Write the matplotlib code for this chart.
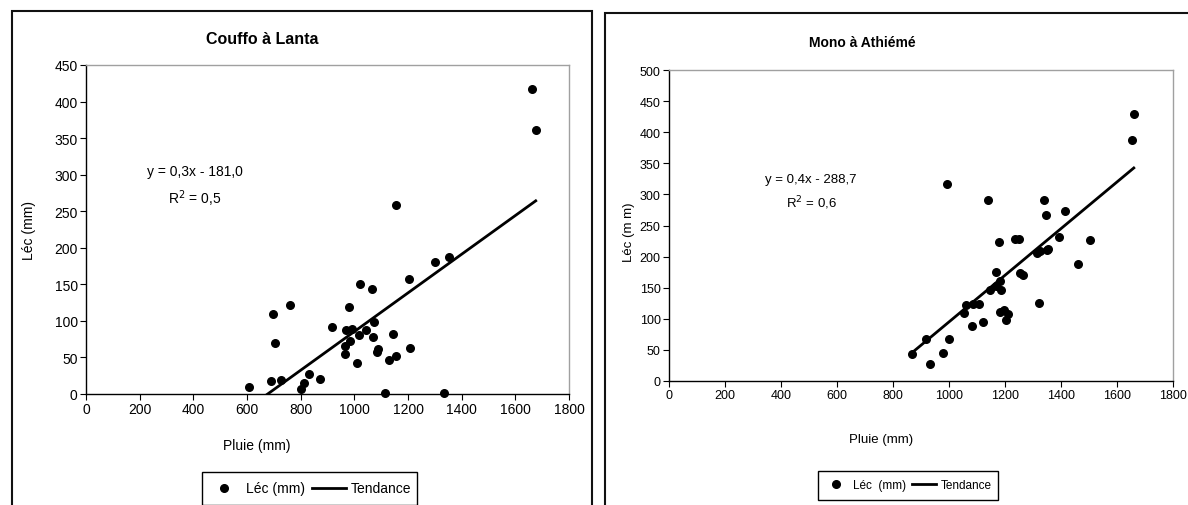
import numpy as np
import matplotlib
matplotlib.use('Agg')
import matplotlib.pyplot as plt
from matplotlib.patches import Rectangle
from matplotlib.lines import Line2D

plt.rcParams['font.family'] = ['Liberation Sans', 'DejaVu Sans']

# Couffo à Lanta : pluie (mm) / lame écoulée (mm)
couffo_pluie = [1661, 1676, 1154, 1299, 1352, 1203, 1021, 1065, 762, 697,
                981, 917, 970, 991, 1042, 1016, 1075, 1070, 982, 1144,
                704, 966, 966, 1090, 1084, 1208, 1154, 1129, 1009, 832,
                871, 689, 727, 608, 813, 802, 1114, 1333]
couffo_lec = [417, 361, 259, 180, 187, 157, 151, 143, 122, 109,
              119, 91, 87, 89, 87, 81, 99, 78, 73, 82,
              70, 65, 55, 62, 57, 63, 52, 47, 43, 28,
              20, 18, 19, 10, 15, 7, 1, 1]
couffo_pente, couffo_ordonnee = 0.2645, -179.1

# Mono à Athiémé
mono_pluie = [1660, 1652, 994, 1138, 1339, 1347, 1414, 1178, 1236, 1250,
              1394, 1503, 1315, 1324, 1351, 1355, 1460, 1167, 1252, 1265,
              1183, 1169, 1147, 1186, 1061, 1085, 1107, 1320, 1055, 1183,
              1198, 1210, 1205, 1123, 1081, 919, 1001, 869, 979, 931]
mono_lec = [430, 388, 316, 291, 291, 267, 273, 223, 228, 228,
            232, 226, 206, 209, 211, 212, 188, 175, 173, 170,
            160, 153, 146, 146, 122, 124, 124, 126, 109, 111,
            114, 107, 98, 95, 89, 68, 67, 43, 45, 27]
mono_pente, mono_ordonnee = 0.375, -280.0

W, H = 1188, 506
fig = plt.figure(figsize=(W / 100, H / 100), dpi=100)


def px_axes(x0, y0, x1, y1):
    return fig.add_axes([x0 / W, (H - y1) / H, (x1 - x0) / W, (y1 - y0) / H])


def fig_text(x, y, s, **kw):
    fig.text(x / W, (H - y) / H, s, **kw)


# cadres des deux graphiques
fig.patches.append(Rectangle((12 / W, -0.05), (592 - 12) / W, (H - 12) / H + 0.05,
                             transform=fig.transFigure, fill=False, lw=1.5, ec='#111111'))
fig.patches.append(Rectangle((605 / W, -0.05), 0.6, (H - 14) / H + 0.05,
                             transform=fig.transFigure, fill=False, lw=1.5, ec='#111111'))


def tracer(ax, pluie, lec, pente, ordonnee, ymax, fs):
    ax.scatter(pluie, lec, s=30, color='black', zorder=3, clip_on=False)
    xs = np.array([min(pluie), max(pluie)])
    ax.plot(xs, pente * xs + ordonnee, color='black', lw=2, zorder=2)
    ax.set_xlim(0, 1800)
    ax.set_ylim(0, ymax)
    ax.set_xticks(range(0, 1801, 200))
    ax.set_yticks(range(0, ymax + 1, 50))
    ax.tick_params(labelsize=fs, length=4, width=0.8, direction='out', pad=2)
    for s in ['top', 'right']:
        ax.spines[s].set_color('#a0a0a0')
    for s in ['left', 'bottom']:
        ax.spines[s].set_color('black')
    for s in ax.spines.values():
        s.set_linewidth(1.0)


ax1 = px_axes(86, 66, 569, 395)
tracer(ax1, couffo_pluie, couffo_lec, couffo_pente, couffo_ordonnee, 450, 10)
ax2 = px_axes(669, 71, 1173, 382)
tracer(ax2, mono_pluie, mono_lec, mono_pente, mono_ordonnee, 500, 9)

fig_text(262, 40, 'Couffo à Lanta', ha='center', va='center', fontsize=11.5, fontweight='bold')
fig_text(862, 43, 'Mono à Athiémé', ha='center', va='center', fontsize=10, fontweight='bold')

fig_text(29, 231, 'Léc (mm)', ha='center', va='center', rotation=90, fontsize=10)
fig_text(629, 232, 'Léc (m m)', ha='center', va='center', rotation=90, fontsize=9.5)
fig_text(257, 446, 'Pluie (mm)', ha='center', va='center', fontsize=10)
fig_text(881, 440, 'Pluie (mm)', ha='center', va='center', fontsize=9.5)

fig_text(195, 172, 'y = 0,3x - 181,0', ha='center', va='center', fontsize=10)
fig_text(195, 199, 'R$^2$ = 0,5', ha='center', va='center', fontsize=10)
fig_text(811, 180, 'y = 0,4x - 288,7', ha='center', va='center', fontsize=9.5)
fig_text(811, 203, 'R$^2$ = 0,6', ha='center', va='center', fontsize=9.5)

handles = [Line2D([], [], marker='o', ls='none', color='black', markersize=5.5),
           Line2D([], [], color='black', lw=2)]
for (x0, y0, x1, y1), labels, fs, hl in [((202, 473, 417, 506), ['Léc (mm)', 'Tendance'], 10, 2.4),
                                          ((818, 472, 998, 501), ['Léc  (mm)', 'Tendance'], 8.5, 2.0)]:
    lax = px_axes(x0, y0, x1, y1)
    lax.axis('off')
    lax.add_patch(Rectangle((0, 0), 1, 1, transform=lax.transAxes, fill=False,
                            ec='black', lw=1, clip_on=False))
    lax.legend(handles, labels, loc='center', ncol=2, frameon=False, fontsize=fs,
               handlelength=hl, handletextpad=0.4, columnspacing=0.5)

fig.savefig('out.png', dpi=100)
